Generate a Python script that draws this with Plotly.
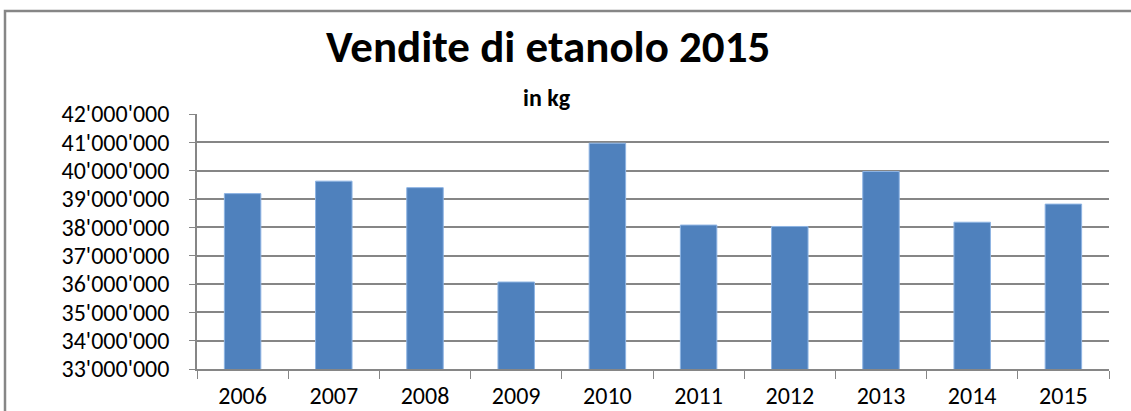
import plotly.graph_objects as go

# Data
anni = ['2006', '2007', '2008', '2009', '2010', '2011', '2012', '2013', '2014', '2015']
vendite_kg = [39190000, 39630000, 39400000, 36070000, 40970000,
              38080000, 38030000, 39970000, 38180000, 38820000]

titolo = 'Vendite di etanolo 2015'
sottotitolo = 'in kg'

fig = go.Figure()
fig.add_trace(go.Bar(x=anni, y=vendite_kg, marker_color='#4F81BD',
                     marker_line_color='#8EB4E3', marker_line_width=1))

# plot area geometry (px)
W, H = 1131, 411
ml, mr, mt, mb = 197, 22, 114, 42
pw, ph = W - ml - mr, H - mt - mb

fig.update_layout(
    width=W, height=H,
    margin=dict(l=ml, r=mr, t=mt, b=mb),
    paper_bgcolor='white', plot_bgcolor='white',
    separators=".'",
    bargap=0.6,
    showlegend=False,
    font=dict(family='Carlito, Calibri, Lato, sans-serif', color='black'),
)
fig.update_yaxes(range=[33000000, 42000000], dtick=1000000, tickformat=',d',
                 showgrid=True, gridcolor='#868686', gridwidth=1.5,
                 showline=True, linecolor='#868686', linewidth=1.5,
                 ticks='outside', ticklen=6, tickcolor='#868686',
                 ticklabelstandoff=15, automargin=False,
                 tickfont=dict(size=24), zeroline=False)
fig.update_xaxes(type='category', tickson='boundaries',
                 showline=True, linecolor='#868686', linewidth=1.5,
                 ticks='outside', ticklen=8, tickcolor='#868686',
                 ticklabelstandoff=4, automargin=False,
                 tickfont=dict(size=24), mirror=False)

# chart frame
fig.add_shape(type='rect', xref='paper', yref='paper',
              x0=(5 - ml) / pw, x1=1.2, y0=-0.5, y1=1 + (mt - 11) / ph,
              line=dict(color='#868686', width=2.5), layer='below')

fig.add_annotation(text='<b>' + titolo + '</b>', xref='paper', yref='paper',
                   x=(548 - ml) / pw, y=1 + (mt - 46) / ph, showarrow=False,
                   font=dict(size=45), xanchor='center', yanchor='middle')
fig.add_annotation(text='<b>' + sottotitolo + '</b>', xref='paper', yref='paper',
                   x=(547 - ml) / pw, y=1 + (mt - 97) / ph, showarrow=False,
                   font=dict(size=24), xanchor='center', yanchor='middle')

fig.write_html('out.html', config={'displayModeBar': False},
               post_script="document.body.style.margin='0';")
